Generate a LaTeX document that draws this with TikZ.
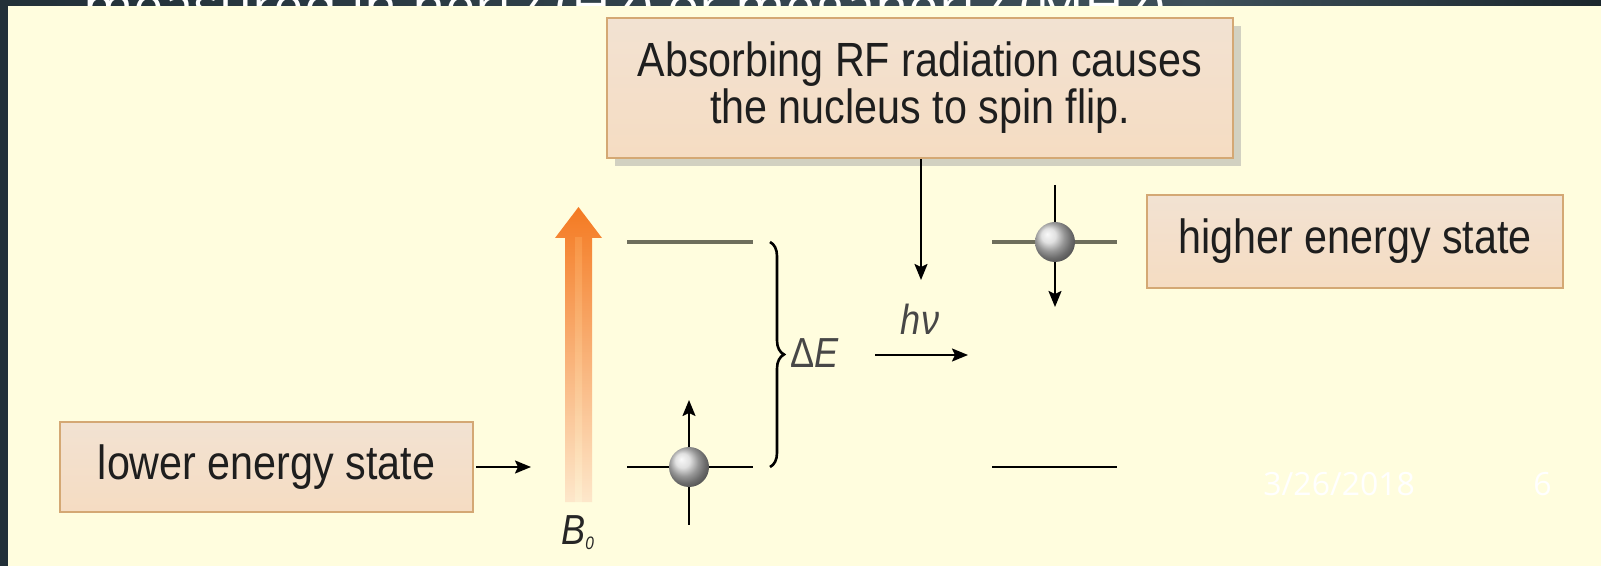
\documentclass[tikz,border=0pt]{standalone}
\usepackage{fontspec}
\setmainfont{Liberation Sans}
\newfontfamily\hv[FakeStretch=0.86]{Liberation Sans}
\newfontfamily\ttl{Open Sans}
\usetikzlibrary{arrows.meta,shadows,decorations.pathreplacing}
\definecolor{panel}{HTML}{FFFDDE}
\definecolor{slateA}{HTML}{223038}
\definecolor{slateB}{HTML}{3E505A}
\definecolor{boxfill}{HTML}{F5DCC2}
\definecolor{boxtop}{HTML}{F2E2D2}
\definecolor{boxedge}{HTML}{D4A874}
\definecolor{levelgrey}{HTML}{6E6E5C}
\definecolor{orangeB}{HTML}{F47A22}
\definecolor{peach}{HTML}{FCD9BE}
\definecolor{txt}{HTML}{1E1E1E}
\tikzset{
  statebox/.style={draw=boxedge, line width=1.2pt, top color=boxtop, bottom color=boxfill,
    inner sep=0pt, align=center, text=txt, font=\hv\fontsize{24}{23.5}\selectfont},
  arr/.style={-{Stealth[length=8pt,width=6.5pt,inset=1.5pt]}, line width=1pt, black},
  lvltop/.style={line width=1.6pt, levelgrey},
  lvlbot/.style={line width=1.3pt, black},
  spin/.style={circle, minimum size=20pt, inner sep=0pt, shading=ball, ball color=gray!32},
  lbl/.style={inner sep=0pt, text=black!72, font=\hv\fontsize{21}{21}\selectfont},
  foot/.style={inner sep=0pt, text=white, font=\ttl\fontsize{16}{16}\selectfont},
}
\begin{document}
\begin{tikzpicture}[x=0.5pt,y=-0.5pt]
\useasboundingbox (0,0) rectangle (1601,566);
% slide background
\shade[left color=slateA, right color=slateB] (0,0) rectangle (1200,566);
\shade[left color=slateB, right color=slateA!80!black] (1200,0) rectangle (1601,566);
% clipped title line (only its lower slice shows above the panel)
\begin{scope}
\clip (0,0) rectangle (1601,6);
\node[anchor=base west, inner sep=0pt, text=white, font=\ttl\fontsize{27}{27}\selectfont] (title) at (83,26) {measured in hertz (Hz) or megahertz (MHz)};
\end{scope}
% panel
\fill[panel] (8,6) rectangle (1601,566);

% boxes
\node[statebox, minimum width=313pt, minimum height=70pt,
  drop shadow={shadow xshift=4pt, shadow yshift=-4pt, fill=gray!70, opacity=0.5}]
  (top) at (920,88) {Absorbing RF radiation causes\\the nucleus to spin flip.};
\node[statebox, minimum width=208pt, minimum height=46.5pt] (hi) at (1355,241.5) {higher energy state};
\node[statebox, minimum width=206.5pt, minimum height=45pt] (lo) at (266.5,467) {lower energy state};

% B0 arrow
\shade[top color=orangeB, bottom color=peach!60!panel]
  (565,502) -- (565,238) -- (555,238) -- (578.5,207) -- (602,238) -- (592,238) -- (592,502) -- cycle;
\shade[top color=orange!60!white, bottom color=panel, opacity=0.35] (575,238) rectangle (582,502);
\node[lbl, anchor=base west, text=black!85] (B0) at (561,545) {\itshape B{\fontsize{9}{9}\selectfont\raisebox{-2pt}{0}}};
\coordinate (Bin) at (531,467);
\draw[arr] (lo.east) ++(1pt,0) coordinate (loout) (loout) -- (Bin);

% left levels
\coordinate (LTa) at (627,242); \coordinate (LTb) at (753,242);
\coordinate (LBa) at (627,467); \coordinate (LBb) at (753,467);
\draw[lvltop] (LTa) -- (LTb);
\draw[lvlbot] (LBa) -- (LBb);
\coordinate (LupTip) at (689,400); \coordinate (LdnEnd) at (689,525);
\draw[line width=1pt] (689,467) -- (LdnEnd);
\draw[arr] (689,467) -- (LupTip);
\node[spin] (bL) at (689,467) {};

% brace and Delta E
\coordinate (brT) at (770,242); \coordinate (brB) at (770,467);
\draw[line width=1.3pt, decorate, decoration={brace, amplitude=7pt}] (brT) -- (brB);
\node[lbl, anchor=base west] (dE) at (790,368) {Δ\itshape E};

% h nu
\node[lbl, anchor=base] (hnu) at (920,335) {\itshape hν};
\coordinate (hnA) at (875,355); \coordinate (hnB) at (968,355);
\draw[arr] (hnA) -- (hnB);
\coordinate (dnTip) at (921,280);
\draw[arr] (top.south -| dnTip) -- (dnTip);

% right levels
\coordinate (RTa) at (992,242); \coordinate (RTb) at (1117,242);
\coordinate (RBa) at (992,467); \coordinate (RBb) at (1117,467);
\draw[lvltop] (RTa) -- (RTb);
\draw[lvlbot] (RBa) -- (RBb);
\coordinate (RupEnd) at (1055,185); \coordinate (RdnTip) at (1055,307);
\draw[line width=1pt] (RupEnd) -- (1055,242);
\draw[arr] (1055,242) -- (RdnTip);
\node[spin] (bR) at (1055,242) {};

% footer
\node[foot, anchor=base west] (date) at (1263,495) {3/26/2018};
\node[foot, anchor=base west] (pg) at (1533,495) {6};
\end{tikzpicture}
\end{document}
